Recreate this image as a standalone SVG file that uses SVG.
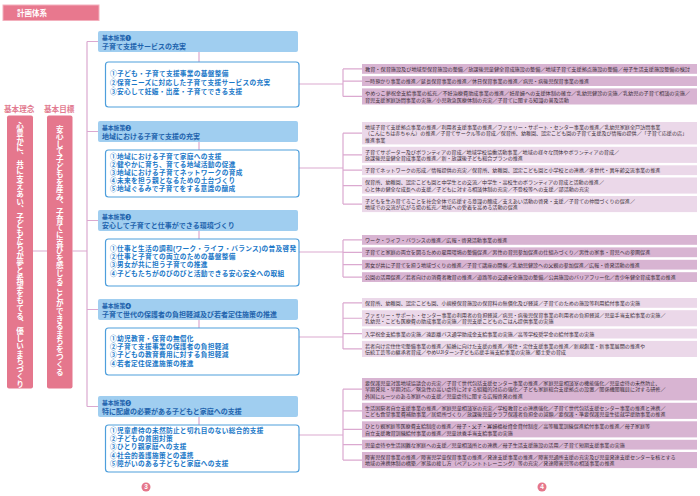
<svg xmlns="http://www.w3.org/2000/svg" width="700" height="496" viewBox="0 0 700 496">
<style>
text{font-family:"Liberation Sans","Noto Sans CJK JP",sans-serif}
.cn{fill:none;stroke:#dba9d0;stroke-width:1.2}
.lb{fill:#e5778d}
.vt{font-family:"Noto Sans CJK JP",sans-serif;font-size:7.6px;font-weight:700;fill:#fff;writing-mode:vertical-rl}
.lab{font-size:7.6px;font-weight:700;fill:#e27b90}
.hd{fill:#a0cef0}
.hl{font-size:5.8px;font-weight:700;fill:#1e63ad}
.ht{font-size:7px;font-weight:700;fill:#1e63ad}
.cb{fill:#fff;stroke:#4e9fdc;stroke-width:1.2}
.ct{font-size:6.7px;font-weight:700;fill:#1a78c8;letter-spacing:0.3px}
.rd{fill:#d8b4d2}
.rl{fill:#ebd8e9}
.rt{font-size:5.1px;fill:#3a2e38}
.pg{fill:#e5768b}
.pt{font-size:6.5px;font-weight:700;fill:#fff;text-anchor:middle}
</style>

<g id="title">
<rect x="3" y="5" width="96" height="15.5" fill="#e8788e" stroke="#f3b0bd" stroke-width="1"/>
<text x="17" y="15.6" style="font-size:7.5px;font-weight:700;fill:#fff">計画体系</text>
</g>

<g id="connectors">
<path class="cn" d="M33 251H47M72.5 251H87M87 41.5V406.5M87 41.5H98M87 131.5H98M87 220.5H98M87 309.5H98M87 406.5H98"/>
<path class="cn" d="M199 52V62M199 142V150M199 231V239M199 320V328M199 417V425"/>
<path class="cn" d="M299 84H343M343 68.9V96.45M343 68.9H362M343 81.1H362M343 96.45H362"/>
<path class="cn" d="M299 168H343M343 133.2V204.05M343 133.2H362M343 154.85H362M343 170.2H362M343 185.55H362M343 204.05H362"/>
<path class="cn" d="M299 252H343M343 239.9V277.1M343 239.9H362M343 252.3H362M343 264.7H362M343 277.1H362"/>
<path class="cn" d="M299 337H343M343 302.9V348.95M343 302.9H362M343 318.25H362M343 333.6H362M343 348.95H362"/>
<path class="cn" d="M299 435H343M343 389.2V460.05M343 389.2H362M343 410.85H362M343 429.35H362M343 444.7H362M343 460.05H362"/>
</g>

<g id="rinen">
<text class="lab" x="4" y="111.5">基本理念</text>
<rect class="lb" x="7" y="115.5" width="26" height="273" rx="2"/>
<text class="vt" x="20" y="122">心豊かに、共に支えあい、子どもたちが夢と希望をもてる、優しいまちづくり</text>
</g>
<g id="mokuhyo">
<text class="lab" x="44" y="111.5">基本目標</text>
<rect class="lb" x="47" y="115.5" width="25.5" height="273" rx="2"/>
<text class="vt" x="59.75" y="125">安心して子どもを産み、子育てに喜びを感じることができるまちをつくる</text>
</g>

<g id="policy1">
<rect class="hd" x="98" y="31" width="200" height="21" rx="2"/>
<text class="hl" x="102" y="39.5">基本施策❶</text>
<text class="ht" x="102" y="48.5">子育て支援サービスの充実</text>
<rect class="cb" x="105.5" y="62" width="193.5" height="45" rx="3"/>
<text class="ct" x="110" y="76">①子ども・子育て支援事業の基盤整備</text>
<text class="ct" x="110" y="85">②保育ニーズに対応した子育て支援サービスの充実</text>
<text class="ct" x="110" y="94">③安心して妊娠・出産・子育てできる支援</text>
</g>
<g id="policy2">
<rect class="hd" x="98" y="121" width="200" height="21" rx="2"/>
<text class="hl" x="102" y="129.5">基本施策❷</text>
<text class="ht" x="102" y="138.5">地域における子育て支援の充実</text>
<rect class="cb" x="105.5" y="150" width="193.5" height="47" rx="3"/>
<text class="ct" x="110" y="158.6">①地域における子育て家庭への支援</text>
<text class="ct" x="110" y="166.8">②健やかに育ち、育てる地域活動の促進</text>
<text class="ct" x="110" y="175">③地域における子育てネットワークの育成</text>
<text class="ct" x="110" y="183.2">④未来を担う親となるための土台づくり</text>
<text class="ct" x="110" y="191.4">⑤地域ぐるみで子育てをする意識の醸成</text>
</g>
<g id="policy3">
<rect class="hd" x="98" y="210" width="200" height="21" rx="2"/>
<text class="hl" x="102" y="218.5">基本施策❸</text>
<text class="ht" x="102" y="227.5">安心して子育てと仕事ができる環境づくり</text>
<rect class="cb" x="105.5" y="239" width="193.5" height="47" rx="3"/>
<text class="ct" x="110" y="250.7">①仕事と生活の調和(ワーク・ライフ・バランス)の普及啓発</text>
<text class="ct" x="110" y="259">②仕事と子育ての両立のための基盤整備</text>
<text class="ct" x="110" y="267.3">③男女が共に担う子育ての推進</text>
<text class="ct" x="110" y="275.6">④子どもたちがのびのびと活動できる安心安全への取組</text>
</g>
<g id="policy4">
<rect class="hd" x="98" y="299" width="200" height="21" rx="2"/>
<text class="hl" x="102" y="307.5">基本施策❹</text>
<text class="ht" x="102" y="316.5">子育て世代の保護者の負担軽減及び若者定住施策の推進</text>
<rect class="cb" x="105.5" y="328" width="193.5" height="47" rx="3"/>
<text class="ct" x="110" y="340.7">①幼児教育・保育の無償化</text>
<text class="ct" x="110" y="349">②子育て支援事業の保護者の負担軽減</text>
<text class="ct" x="110" y="357.3">③子どもの教育費用に対する負担軽減</text>
<text class="ct" x="110" y="365.6">④若者定住促進施策の推進</text>
</g>
<g id="policy5">
<rect class="hd" x="98" y="396" width="200" height="21" rx="2"/>
<text class="hl" x="102" y="404.5">基本施策❺</text>
<text class="ht" x="102" y="413.5">特に配慮の必要がある子どもと家庭への支援</text>
<rect class="cb" x="105.5" y="425" width="193.5" height="47" rx="3"/>
<text class="ct" x="110" y="433">①児童虐待の未然防止と切れ目のない総合的支援</text>
<text class="ct" x="110" y="441.2">②子どもの貧困対策</text>
<text class="ct" x="110" y="449.4">③ひとり親家庭への支援</text>
<text class="ct" x="110" y="457.6">④社会的養護施策との連携</text>
<text class="ct" x="110" y="465.8">⑤障がいのある子どもと家庭への支援</text>
</g>

<g id="s1a"><rect class="rd" x="362" y="64" width="335" height="9.8"/><text class="rt" x="365" y="70.9" textLength="325" lengthAdjust="spacingAndGlyphs">教育・保育施設及び地域型保育施設の整備／放課後児童健全育成施設の整備／地域子育て支援拠点施設の整備／母子生活支援施設整備の検討</text></g>
<g id="s1b"><rect class="rd" x="362" y="76.2" width="335" height="9.8"/><text class="rt" x="365" y="83.1">一時預かり事業の推進／延長保育事業の推進／休日保育事業の推進／病児・病後児保育事業の推進</text></g>
<g id="s1c"><rect class="rd" x="362" y="88.4" width="335" height="16.1"/><text class="rt" x="365" y="95.3" textLength="325" lengthAdjust="spacingAndGlyphs">やめっこ夢祝金支給事業の拡充／不妊治療費助成事業の推進／妊産婦への支援体制の確立／乳幼児健診の実施／乳幼児の子育て相談の実施／</text><text class="rt" x="365" y="101.6">育児支援家庭訪問事業の実施／小児救急医療体制の充実／子育てに関する知識の普及活動</text></g>

<g id="s2a"><rect class="rl" x="362" y="122" width="335" height="22.4"/><text class="rt" x="365" y="128.9">地域子育て支援拠点事業の推進／利用者支援事業の推進／ファミリー・サポート・センター事業の推進／乳幼児家庭全戸訪問事業</text><text class="rt" x="365" y="135.2" textLength="322" lengthAdjust="spacingAndGlyphs">（こんにちは赤ちゃん）の推進／子育てサークル等の育成／保育所、幼稚園、認定こども園の子育て支援及び情報の提供／「子育て応援の店」</text><text class="rt" x="365" y="141.5">推進事業</text></g>
<g id="s2b"><rect class="rl" x="362" y="146.8" width="335" height="16.1"/><text class="rt" x="365" y="153.7">子育てサポーター及びボランティアの育成／地域学校協働活動事業／地域の様々な団体やボランティアの育成／</text><text class="rt" x="365" y="160">放課後児童健全育成事業の推進／新・放課後子ども総合プランの推進</text></g>
<g id="s2c"><rect class="rl" x="362" y="165.3" width="335" height="9.8"/><text class="rt" x="365" y="172.2">子育てネットワークの形成／情報提供の充実／保育所、幼稚園、認定こども園と小学校との連携／多世代・異年齢交流事業の推進</text></g>
<g id="s2d"><rect class="rl" x="362" y="177.5" width="335" height="16.1"/><text class="rt" x="365" y="184.4">保育所、幼稚園、認定こども園と中学生との交流／中学生・高校生のボランティアの育成と活動の推進／</text><text class="rt" x="365" y="190.7">心と体の健全な成長への支援／子どもに対する相談体制の充実／不登校等への支援／部活動の充実</text></g>
<g id="s2e"><rect class="rl" x="362" y="196" width="335" height="16.1"/><text class="rt" x="365" y="202.9">子どもを生み育てることを社会全体で応援する意識の醸成／支えあい活動の啓発・支援／子育ての仲間づくりの促進／</text><text class="rt" x="365" y="209.2">地域での交流が広がる場の拡充／地域への愛着を高める活動の促進</text></g>

<g id="s3a"><rect class="rd" x="362" y="235" width="335" height="9.8"/><text class="rt" x="365" y="241.9">ワーク・ライフ・バランスの推進／広報・啓発活動事業の推進</text></g>
<g id="s3b"><rect class="rd" x="362" y="247.4" width="335" height="9.8"/><text class="rt" x="365" y="254.3">子育てと家庭の両立を図るための雇用環境の整備促進／男性の育児参加促進の仕組みづくり／男性の家事・育児への参画促進</text></g>
<g id="s3c"><rect class="rd" x="362" y="259.8" width="335" height="9.8"/><text class="rt" x="365" y="266.7">男女が共に子育てを担う地域づくりの推進／子育て講座の開催／乳幼児健診への父親の参加促進／広報・啓発活動の推進</text></g>
<g id="s3d"><rect class="rd" x="362" y="272.2" width="335" height="9.8"/><text class="rt" x="365" y="279.1">公園の活用促進／若者向けの消費者教育の推進／道路等の交通安全施設の整備／公共施設のバリアフリー化／青少年健全育成事業の推進</text></g>

<g id="s4a"><rect class="rl" x="362" y="298" width="335" height="9.8"/><text class="rt" x="365" y="304.9">保育所、幼稚園、認定こども園、小規模保育施設の保育料の無償化及び軽減／子育てのための施設等利用給付事業の実施</text></g>
<g id="s4b"><rect class="rl" x="362" y="310.2" width="335" height="16.1"/><text class="rt" x="365" y="317.1">ファミリー・サポート・センター事業の利用者の負担軽減／病児・病後児保育事業の利用者の負担軽減／児童手当支給事業の実施／</text><text class="rt" x="365" y="323.4">乳幼児・こども医療費の助成事業の実施／育児支援こどものごはん提供事業の実施</text></g>
<g id="s4c"><rect class="rl" x="362" y="328.7" width="335" height="9.8"/><text class="rt" x="365" y="335.6">入学祝金支給事業の実施／遠距離バス通学助成金支給事業の実施／高等学校奨学金の給付事業の実施</text></g>
<g id="s4d"><rect class="rl" x="362" y="340.9" width="335" height="16.1"/><text class="rt" x="365" y="347.8">若者向け定住住宅整備事業の推進／結婚に向けた支援の推進／移住・定住支援事業の推進／新規創業・新事業展開の推進や</text><text class="rt" x="365" y="354.1">伝統工芸等の継承者育成／やめUJIターン子ども応援手当支給事業の実施／郷土愛の育成</text></g>

<g id="s5a"><rect class="rd" x="362" y="378" width="335" height="22.4"/><text class="rt" x="365" y="384.9">要保護児童対策地域協議会の充実／子育て世代包括支援センター事業の推進／家庭児童相談室の機能強化／児童虐待の未然防止、</text><text class="rt" x="365" y="391.2">早期発見・早期対応／緊急性の高い虐待に対する組織的対応の強化／子ども家庭総合支援拠点の設置／関係機関職員に対する研修／</text><text class="rt" x="365" y="397.5">外国にルーツのある家庭への支援／児童虐待に関する広報啓発の推進</text></g>
<g id="s5b"><rect class="rd" x="362" y="402.8" width="335" height="16.1"/><text class="rt" x="365" y="409.7">生活困窮者自立支援事業の推進／家庭児童相談室の充実／学校教育との連携強化／子育て世代包括支援センター事業の推進と連携／</text><text class="rt" x="365" y="416">こども食堂事業費補助事業／居場所づくり／放課後児童クラブ保護者負担金の減額／要保護・準要保護児童生徒就学援助事業の推進</text></g>
<g id="s5c"><rect class="rd" x="362" y="421.3" width="335" height="16.1"/><text class="rt" x="365" y="428.2">ひとり親家庭等医療費支給制度の推進／母子・父子・寡婦福祉資金貸付制度／高等職業訓練促進給付事業の推進／母子家庭等</text><text class="rt" x="365" y="434.5">自立支援教育訓練給付事業の推進／児童扶養手当支給事業の実施</text></g>
<g id="s5d"><rect class="rd" x="362" y="439.8" width="335" height="9.8"/><text class="rt" x="365" y="446.7">児童虐待や生活困難な家庭への支援／児童相談所との連携／母子生活支援施設の活用／子育て短期支援事業の実施</text></g>
<g id="s5e"><rect class="rd" x="362" y="452" width="335" height="16.1"/><text class="rt" x="365" y="458.9">障害児保育事業の推進／障害児学童保育事業の推進／発達支援事業の推進／障害児通所支援の充実及び児童発達支援センターを核とする</text><text class="rt" x="365" y="465.2">地域の連携体制の構築／家族の接し方（ペアレントトレーニング）等の充実／発達障害児等の相談事業の推進</text></g>

<g id="page3"><circle class="pg" cx="146" cy="487" r="4.5"/><text class="pt" x="146" y="489.4">3</text></g>
<g id="page4"><circle class="pg" cx="542" cy="487" r="4.5"/><text class="pt" x="542" y="489.4">4</text></g>
</svg>
